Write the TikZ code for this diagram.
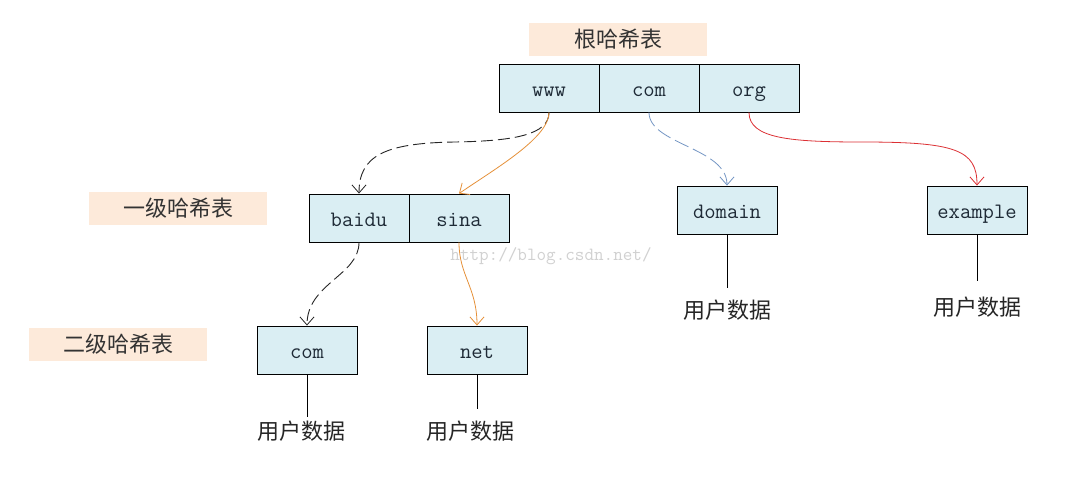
\documentclass[tikz,border=0pt]{standalone}
\usepackage{fontspec}
\newfontfamily\cjk{Noto Sans CJK SC}
\usetikzlibrary{arrows.meta}
\definecolor{peach}{HTML}{FDEADA}
\definecolor{cellblue}{HTML}{DAEEF3}
\definecolor{txtdark}{HTML}{1E2A36}
\definecolor{arrorange}{HTML}{E6913A}
\definecolor{arrblue}{HTML}{7496C4}
\definecolor{arrred}{HTML}{DC3034}
\begin{document}
\begin{tikzpicture}[x=1pt,y=-1pt,
  cell/.style={draw=black,line width=0.9pt,fill=cellblue,minimum width=100pt,minimum height=48pt,inner sep=0pt,
    font=\ttfamily\fontsize{22}{22}\selectfont,text=txtdark,text height=16pt,text depth=0pt},
  lvl/.style={fill=peach,minimum width=178pt,minimum height=33pt,inner sep=0pt,
    font=\cjk\fontsize{22}{22}\selectfont,text=black!80},
  data/.style={inner sep=0pt,font=\cjk\fontsize{22}{22}\selectfont,text=black!85},
  link/.style={line width=0.9pt,black},
  tip/.style={-{Straight Barb[length=8pt,width=14pt,line width=0.8pt]}},
  wm/.style={inner sep=0pt,font=\ttfamily\fontsize{18.6}{18.6}\selectfont,text=black!18}
]
\path[use as bounding box,fill=white] (0,0) rectangle (1087,488);

% level labels
\node[lvl] (lroot) at (618,39.5) {根哈希表};
\node[lvl] (lone) at (178,208.5) {一级哈希表};
\node[lvl] (ltwo) at (118,344.5) {二级哈希表};

% watermark
\node[wm] (wmark) at (551,256) {http://blog.csdn.net/};

% root table
\node[cell] (www) at (549,88) {www};
\node[cell] (com) at (649,88) {com};
\node[cell] (org) at (749,88) {org};

% first level
\node[cell] (baidu) at (359,218) {baidu};
\node[cell] (sina) at (459,218) {sina};
\node[cell] (domain) at (727,210) {domain};
\node[cell] (example) at (977,210) {example};

% second level
\node[cell] (com2) at (307,350) {com};
\node[cell] (net) at (477,350) {net};

% user data
\node[data] (ddomain) at (727,310) {用户数据};
\node[data] (dexample) at (977,307) {用户数据};
\node[data] (dcom) at (301,431) {用户数据};
\node[data] (dnet) at (470,431) {用户数据};
\coordinate (edomain) at (727,288);
\coordinate (eexample) at (977,281);
\coordinate (ecom) at (307,417);
\coordinate (enet) at (477,409);
\draw[link] (domain.south) -- (edomain);
\draw[link] (example.south) -- (eexample);
\draw[link] (com2.south) -- (ecom);
\draw[link] (net.south) -- (enet);

% arrows
\draw[tip,line width=0.9pt,black!85,dash pattern=on 12pt off 5pt]
  (www.south) .. controls +(0,22) and (515,141) .. (455,142)
  .. controls (385,143) and +(0,-38) .. (baidu.north);
\draw[tip,line width=0.8pt,arrorange]
  (www.south) .. controls +(0,25) and +(38,-26) .. (sina.north);
\draw[tip,line width=0.8pt,arrblue,dash pattern=on 15pt off 5pt]
  (com.south) .. controls +(0,32) and +(0,-38) .. (domain.north);
\draw[tip,line width=0.8pt,arrred]
  (org.south) .. controls +(0,26) and (790,142) .. (862,142)
  .. controls (955,142) and +(0,-36) .. (example.north);
\draw[tip,line width=0.9pt,black!85,dash pattern=on 12pt off 5pt]
  (baidu.south) .. controls +(0,33) and +(0,-42) .. (com2.north);
\draw[tip,line width=0.8pt,arrorange]
  (sina.south) .. controls +(0,33) and +(0,-38) .. (net.north);
\end{tikzpicture}
\end{document}
